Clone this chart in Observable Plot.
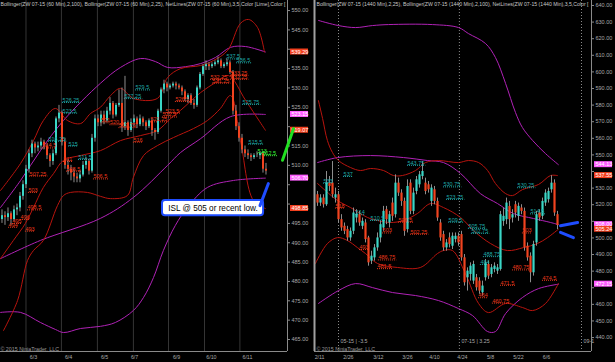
<!DOCTYPE html>
<html><head><meta charset="utf-8">
<script src="https://cdn.jsdelivr.net/npm/d3@7"></script>
<script src="https://cdn.jsdelivr.net/npm/@observablehq/plot@0.6"></script>
<style>
html,body{margin:0;padding:0;background:#000;overflow:hidden}
#wrap{display:flex;width:615px;height:362px;overflow:hidden;background:#000}
#wrap svg{display:block;overflow:visible}
</style></head><body><div id="wrap"></div>
<script>
// ---------------- LEFT PANEL (60 min) ----------------
const leftTitle = "Bollinger(ZW 07-15 (60 Min),2,100), Bollinger(ZW 07-15 (60 Min),2,25), NetLines(ZW 07-15 (60 Min),3,5,Color [Lime],Color [";
const leftOpen = [496,497,496.5,497.5,496,498.5,499,502,505,509, 513,515.5,514.5,515,516,515,512.5,511,513,522, 523.5,516,510,509,508,507,506.5,507.5,510,511, 508.5,517,522,521,523,521.5,524,526,523,525.5, 526,520,521,519,521,522,520.5,522,521,520, 521.5,519,518.5,524,529.5,531,530,530.5,531,530.5, 530,529,527,528,526,525.5,530,533.5,535.5,536, 535.5,536,536.5,537,535.5,536,536.5,534,524,520, 517,514,513,512.5,512,512.5,512.5,513,509];
const leftHigh = [498.5,498,499,498,499.5,500,503,506,510,514, 516.5,516,516,517,516.5,515.5,513,514,522.5,525.5, 524,517,511.5,510,509,508,508.5,511,512,511.5, 518,523,523,524,524,525,527.5,526.5,526,529.5, 530,533,521.5,522,523,522.5,523,522.5,521.5,522, 522,519.5,524.5,530,532,531.5,531,531.5,531.5,531, 530.5,529.5,528.5,528.5,527,530.5,534,536,537,536.5, 536.5,537,538,537.5,536.5,537.5,537,534.5,525.5,521, 518,515,514,513,513,513.5,513.5,513.5,510.5];
const leftLow = [495,494.5,495.5,494.5,495.5,497,498,501,504,508, 512,513,513.5,514,514,511.5,509.5,510,512.5,521, 515,509,507.5,506,505.5,505.5,505.5,507,509,507.5, 508,516,520,520,520.5,521,523,522,522.5,525, 518.5,519,517.5,518.5,520,519.5,520,520,519,519.5, 517.5,516.5,518,523.5,528.5,529,529.5,530,529.5,529.5, 528,526.5,526,525.5,524.5,525,529.5,533,534.5,534.5, 535,535.5,536,535,535,535.5,533.5,523,519,516, 513,512,511.5,511,511.5,512,511.5,508,507.5];
const leftClose = [497,496.5,497.5,496,498.5,499,502,505,509,513, 515.5,514.5,515,516,515,512.5,511,513,522,523.5, 516,510,509,508,507,506.5,507.5,510,511,508.5, 517,522,521,523,521.5,524,526,523,525.5,526, 520,521,519,521,522,520.5,522,521,520,521.5, 519,518.5,524,529.5,531,530,530.5,531,530.5,530, 529,527,528,526,525.5,530,533.5,535.5,536,535.5, 536,536.5,537,535.5,536,536.5,534,524,520,517, 514,513,512.5,512,512.5,512.5,513,509,508.5];
// Bollinger (100) magenta, Bollinger (25) dark red : [bar index, price]
const leftMagUpper = [[-0.5,499.1],[6.2,506.1],[12.8,513.8],[20.5,521.6],[32.8,531.2],[39.5,535.3],[46.2,537.6],[51.2,536.8],[55.2,535.3],[61.2,535.5],[66.2,536.3],[71.2,537.9],[76.2,540.5],[81.2,540.7],[87.8,539.3]];
const leftMagMid = [[-0.5,485.9],[12.8,490.6],[32.8,496.3],[43.8,501.7],[55.2,510.0],[59.5,513.3],[66.2,516.9],[76.2,522.6],[87.8,523.15]];
const leftMagLower = [[-0.5,472.0],[6.2,472.0],[12.8,469.4],[17.8,467.6],[20.5,466.8],[26.2,467.85],[32.8,468.4],[37.8,469.4],[43.8,472.5],[47.2,475.9],[50.5,481.0],[53.8,488.0],[57.8,494.5],[61.8,499.1],[68.5,504.3],[77.2,506.1],[87.8,506.7]];
const leftRedUpper = [[-0.5,503.5],[6.2,510.5],[10.5,516.4],[13.8,521.6],[17.8,524.7],[21.8,521.6],[26.2,520.8],[29.5,523.4],[32.8,525.0],[36.2,528.05],[39.5,529.9],[43.8,527.3],[51.8,527.3],[55.2,532.7],[59.5,535.0],[66.2,535.8],[70.5,537.1],[75.2,539.7],[79.5,546.7],[82.2,547.7],[85.2,545.6],[87.5,539.29]];
const leftRedMid = [[-0.5,485.9],[3.8,490.6],[7.8,495.0],[10.5,499.1],[13.8,504.3],[17.2,507.9],[20.5,511.3],[26.2,512.55],[32.8,513.8],[39.5,516.4],[46.2,517.7],[51.8,519.0],[56.2,522.1],[59.5,524.2],[66.2,528.8],[71.2,531.4],[75.5,533.2],[81.2,526.8],[87.8,519.07]];
const leftRedLower = [[0.5,467.3],[5.2,475.1],[8.5,485.4],[10.5,488.0],[13.8,490.6],[18.5,499.6],[20.5,502.2],[22.8,503.0],[28.5,503.0],[32.8,502.0],[36.2,501.4],[41.8,502.2],[43.8,506.9],[47.2,512.55],[51.8,515.1],[57.2,517.2],[63.8,519.5],[68.5,521.6],[72.8,524.7],[76.2,528.05],[79.5,516.4],[83.8,500.9],[87.8,498.85]];
// NetLines labels: [bar index, price]
const leftCyanLabels = [[20.2,526.25],[20.2,523.5],[40.8,527.25],[44.5,529.5],[74.8,537.5],[78.2,536.5],[80.2,525.75],[82.2,515.5],[15.5,516.25],[22.2,515],[25.5,511.5]];
const leftGreenLabels = [[85.2,513],[86.8,512.5]];
const leftRedLabels = [[9.2,507.25],[8.8,503],[8.5,498.5],[6.2,496],[3.5,495],[2.2,494],[7.8,493],[20.5,511],[21.5,508.5],[30.5,506.5],[43.8,516],[57.8,526.5],[76.2,533.25],[69.5,532.25],[76.2,532.25],[70.2,531.25],[33,521],[36,520.5],[39,519.75],[49.5,521.25],[53.5,522.5],[54.5,523.5],[13.5,514.5]];
const leftAxisBoxes = [[539.29,"red"],[523.15,"mag"],[519.07,"red"],[506.70,"mag"],[498.85,"red"]];
const leftYTicks = [550,545,540,535,530,525,520,515,510,505,500,495,490,485,480,475,470,465];
const leftDayLines = [8,19.8,31.8,43.8,55.5,67.5,79.3];
const leftDateLabels = ["6/3","6/4","6/5","6/7","6/9","6/10","6/11"];
const leftDatePos = [10.5,22.2,34.2,44.2,58.2,69.8,81.8];
const leftNote = "ISL @ 505 or recent low.";
const leftNoteBox = {i1:53.5, i2:87.2, v1:500.9, v2:497.0};
const leftArrows = [{x1:93.5,y1:511.3,x2:97.2,y2:519.5,c:"green"},{x1:86,y1:499.6,x2:88.8,y2:505.3,c:"blue"}];

// ---------------- RIGHT PANEL (1440 min) ----------------
const rightTitle = "Bollinger(ZW 07-15 (1440 Min),2,25), Bollinger(ZW 07-15 (1440 Min),2,100), NetLines(ZW 07-15 (1440 Min),3,5,Color [";
const rightOpen = [526,521,524,520,533,533,524,526,511,507, 505,500,504,512,514,507,509,500,486,488, 494,500,506,517,509,521,514,533,527,522, 505,533,516,528,532,537,533,532,522,529, 522,509,502,494,500,495,499,501,502,488, 476,478,474,476,474,467,476,484,478,481, 480,481,510,511,519,512,520,513,518,516, 495,489,479,497,515,513,521,523,529,533,514];
const rightHigh = [528,526,526,540,537,546,530,528,514,509, 507,506,518,517,516,512,511,501,492,496, 503,510,519,519,516,524,538,536,529,524, 535,535,530,537,540,546,536,534,532,531, 524,511,504,499,503,503,503,503,504,490, 482,485,486,478,476,474,487,486,484,485, 484,516,518,524,522,517,522,521,520,518, 497,491,498,516,517,524,529,530,537.5,535,516];
const rightLow = [519,519,518,519,528,524,521,509,504,502, 498,498,502,509,507,505,497,483,484,486, 492,497,504,508,506,510,512,525,519,501, 503,514,514,526,530,535,526,527,519,520, 510,498,492,492,494,493,497,495,486,471, 468,474,472,468,466,465,474,475,476,479, 478,480,507,508,505,509,512,510,514,492, 486,473,477,495,510,511,519,521,527,513,505];
const rightClose = [521,524,520,533,531,526,526,511,506,504, 500,504,515,514,509,510,499,485,489,494, 500,508,516,511,514,513,533,527,522,504, 531,516,527,535,538,540,528,529,530,522, 512,500,494,497,496,501,501,497,488,473, 480,483,484,470,468,471,485,477,482,483, 482,514,513,521,511,514,515,519,516,494, 488,479,496,514,512,522,527,528,533,515,507.5];
const rightMagUpper = [[0.3,631.0],[7,627.9],[12.7,626.7],[18.3,627.9],[23.7,628.5],[38.3,628.5],[47,626.7],[50.3,623.1],[56,617.1],[59.3,608.7],[62.7,593.0],[66,575.5],[68.3,566.5],[71.7,558.7],[76,550.8],[80.3,544.13]];
const rightMagMid = [[0,545.4],[6.7,548.4],[17.7,549.6],[28.7,548.4],[36.7,546.6],[42,545.4],[47.7,538.8],[54.3,526.7],[60,520.7],[65.3,514.7],[72,511.7],[77.7,509.3],[80.3,508.0]];
const rightMagLower = [[0.3,460.5],[7,468.3],[12.7,472.5],[18.3,470.1],[25,467.1],[32.7,465.3],[40.3,462.3],[47,457.45],[51.7,453.2],[56.7,443.6],[59.3,443.6],[62.7,454.45],[68.3,464.1],[73.7,469.5],[80.3,472.15]];
const rightRedUpper = [[0.3,582.8],[1.7,571.9],[3.3,558.7],[5,551.4],[7,546.6],[11,542.4],[14.3,540.6],[17.7,541.8],[22,540.6],[25.3,537.6],[28.3,537.6],[32.7,540.6],[36,545.4],[40.3,546.6],[47,545.4],[50.3,546.6],[53.7,545.4],[56.7,540.6],[59.3,532.8],[62.7,526.7],[65,525.5],[68.3,529.1],[73.7,532.2],[77.7,537.6],[80,537.55]];
const rightRedMid = [[0,532.8],[6.7,522.5],[11,518.3],[16.7,512.3],[20,510.5],[24.3,509.3],[28.7,510.5],[33.3,514.7],[37.7,520.7],[42,518.3],[47.7,512.3],[52,504.45],[57.7,496.6],[63.3,492.4],[68.7,494.2],[73.3,496.6],[76.7,500.2],[80.3,505.24]];
const rightRedLower = [[-0.7,484.6],[3.3,496.6],[6.7,500.2],[10,498.4],[13.3,494.2],[16,490.6],[20,484.6],[26.7,482.2],[34.3,482.2],[40,490.6],[42,492.4],[45,492.4],[49.3,478.55],[53.7,460.5],[57,455.05],[62.7,460.5],[68.3,458.1],[71.7,456.25],[76,460.5],[80.3,472.5]];
const rightCyanLabels = [[8.7,537],[30,543.75],[2,533],[12.7,514],[17.7,510.5],[42,530.75],[43,523.25],[43.7,509.5],[50.3,505.75],[51.3,502.75],[66.7,530.25],[71,514.5],[55.3,488.75],[54.3,484]];
const rightGreenLabels = [];
const rightRedLabels = [[6,518],[14,493],[20.3,486.75],[20,481.5],[27,509.5],[21.7,503],[31,502.25],[68.3,503],[65,480.75],[61,471.5],[58.3,460.75],[53.7,464],[75,474.5]];
const rightAxisBoxes = [[544.13,"mag"],[537.55,"red"],[508.00,"mag"],[505.24,"red"],[472.15,"mag"]];
const rightYTicks = [640,630,620,610,600,590,580,570,560,550,540,530,520,510,500,490,480,470,460,450,440];
const rightRollPos = [7,47.3,88];
const rightRollLabels = ["05-15 | -3.5","07-15 | 3.25","09-1"];
const rightDateLabels = ["2/11","2/26","3/12","3/26","4/10","4/24","5/8","5/22","6/6"];
const rightDatePos = [0.7,10.3,20.3,30,39,48.3,57.7,67,76.3];
const rightArrows = [{x1:86.7,y1:509.3,x2:81,y2:507.3,c:"blue",bend:-25},{x1:85.3,y1:500.2,x2:81,y2:503.4,c:"blue",bend:20}];

// ---------------- drawing ----------------
const COL = {up:"#3ad6c6", down:"#f2431f", wick:"#8d8d8d", mag:"#b022b6", red:"#b8140e",
  cyan:"#1fa9a7", lred:"#e9381b", green:"#3cff3c", boxRed:"#f2401e", boxMag:"#ff5cff",
  axis:"#a9a9a9", grid:"#353535", blue:"#1f4dff", arrowGreen:"#21e021"};
const FONT = "'Liberation Sans', Arial, sans-serif";
const PLOT_H = 351; // plot frame height in px (362 - bottom margin)

function panel(p) {
  const bars = p.close.map((c, i) => ({i, o: p.open[i], h: p.high[i], l: p.low[i], c}));
  const [x0, x1] = p.xDomain, [y0, y1] = p.yDomain;
  const pxPerUnit = PLOT_H / (y1 - y0);
  // tick labels covered by a price box on the axis are hidden (as in the platform)
  const covered = new Set(p.yTicks.filter(t => p.boxes.some(([v]) => Math.abs(v - t) * pxPerUnit < 7)));
  const line = (arr, stroke) => Plot.line(arr, {x: d => d[0], y: d => d[1], stroke, strokeWidth: 1, curve: "catmull-rom"});
  const lab = (arr, fill) => arr.map(([i, v]) => ({i, v, t: String(v), fill}));
  const labels = [...lab(p.red, COL.lred), ...lab(p.cyan, COL.cyan), ...lab(p.green, COL.green)];
  const boxes = p.boxes.map(([v, k]) => ({v, t: v.toFixed(2), fill: k === "red" ? COL.boxRed : COL.boxMag}));
  const marks = [];
  if (p.dayLines) marks.push(Plot.ruleX(p.dayLines, {stroke: COL.grid, strokeWidth: 1}));
  if (p.rolls) {
    marks.push(Plot.ruleX(p.rolls, {stroke: "#8a8a8a", strokeDasharray: "1,2"}));
    marks.push(Plot.text(p.rolls, {x: d => d, text: (d, k) => p.rollLabels[k], frameAnchor: "bottom", dy: -9, dx: 2, textAnchor: "start", fill: COL.axis, fontSize: 5.3}));
  }
  marks.push(
    line(p.magUpper, COL.mag), line(p.magMid, COL.mag), line(p.magLower, COL.mag),
    line(p.redUpper, COL.red), line(p.redMid, COL.red), line(p.redLower, COL.red),
    Plot.ruleY(labels, {y: "v", x1: "i", x2: d => d.i + d.t.length * 1.02, stroke: "fill", strokeDasharray: "1,1", strokeWidth: 1}),
    Plot.ruleX(bars, {x: "i", y1: "l", y2: "h", stroke: COL.wick, strokeWidth: 1}),
    Plot.ruleX(bars, {x: "i", y1: "o", y2: "c", stroke: d => d.c >= d.o ? COL.up : COL.down, strokeWidth: p.bodyWidth}),
    Plot.text(labels, {x: "i", y: "v", text: "t", fill: "fill", textAnchor: "start", lineAnchor: "bottom", dy: -0.5, fontSize: 5.5}),
    Plot.ruleY([y0], {stroke: "#8a8a8a"}),
    Plot.ruleX([x1], {stroke: "#8a8a8a"}),
    Plot.ruleY(p.yTicks, {y: d => d, x1: () => x1, x2: () => x1, insetRight: -3, stroke: "#8a8a8a"}),
    Plot.text(p.yTicks.filter(t => !covered.has(t)), {y: d => d, text: d => d.toFixed(2), frameAnchor: "right", dx: 4, textAnchor: "start", fill: COL.axis, fontSize: 5.5}),
    Plot.rect(boxes, {x1: () => x1, x2: () => x1, y1: "v", y2: "v", fill: "fill", insetLeft: 3, insetRight: -21, insetTop: -3, insetBottom: -3}),
    Plot.text(boxes, {x: () => x1, y: "v", text: "t", fill: "#fff", textAnchor: "start", dx: 4, fontSize: 5.5}),
    Plot.text([p.title], {text: d => d, frameAnchor: "top-left", dx: p.titleDx, dy: 2, lineAnchor: "top", textAnchor: "start", fill: "#c8c8c8", fontSize: 5.3}),
    Plot.text(["\u00a9 2015 NinjaTrader, LLC"], {text: d => d, frameAnchor: "bottom-left", dx: p.titleDx, dy: -1, lineAnchor: "bottom", textAnchor: "start", fill: "#9a9a9a", fontSize: 5.3}),
    Plot.text(p.datePos, {x: d => d, text: (d, k) => p.dateLabels[k], frameAnchor: "bottom", dy: 7, fill: COL.axis, fontSize: 5.3})
  );
  if (p.leftBorder) marks.push(Plot.ruleX([x0], {stroke: "#a0a0a0", strokeWidth: 2}));
  if (p.note) {
    marks.push(
      Plot.rect([p.noteBox], {x1: "i1", x2: "i2", y1: "v1", y2: "v2", fill: "#fff", stroke: COL.blue, strokeWidth: 2, rx: 3}),
      Plot.text([p.note], {x: () => (p.noteBox.i1 + p.noteBox.i2) / 2, y: () => (p.noteBox.v1 + p.noteBox.v2) / 2, text: d => d, fill: "#000", fontSize: 8.2, fontFamily: FONT})
    );
  }
  marks.push(Plot.arrow(p.arrows, {x1: "x1", y1: "y1", x2: "x2", y2: "y2", stroke: d => d.c === "green" ? COL.arrowGreen : COL.blue, strokeWidth: 3, headLength: 7, bend: d => d.bend || 0}));
  const svg = Plot.plot({
    width: p.width, height: 362,
    marginLeft: p.marginLeft, marginRight: p.marginRight, marginTop: 0, marginBottom: 11,
    x: {domain: p.xDomain, axis: null},
    y: {domain: p.yDomain, axis: null},
    style: {background: "#000", color: COL.axis, fontSize: "5.5px", fontFamily: FONT, overflow: "visible"},
    marks
  });
  // fit the indicator title into the visible chart width
  svg.querySelectorAll("text").forEach(t => {
    if (t.textContent === p.title) {
      t.setAttribute("textLength", p.titleWidth);
      t.setAttribute("lengthAdjust", "spacingAndGlyphs");
    }
  });
  return svg;
}

const wrap = document.getElementById("wrap");
wrap.appendChild(panel({
  width: 310, marginLeft: 0, marginRight: 23, xDomain: [-0.5, 95.17], yDomain: [461.9, 552.6],
  open: leftOpen, high: leftHigh, low: leftLow, close: leftClose, bodyWidth: 2,
  magUpper: leftMagUpper, magMid: leftMagMid, magLower: leftMagLower,
  redUpper: leftRedUpper, redMid: leftRedMid, redLower: leftRedLower,
  cyan: leftCyanLabels, green: leftGreenLabels, red: leftRedLabels, boxes: leftAxisBoxes,
  yTicks: leftYTicks, dayLines: leftDayLines, dateLabels: leftDateLabels, datePos: leftDatePos,
  title: leftTitle, titleDx: 0, titleWidth: 285, note: leftNote, noteBox: leftNoteBox, arrows: leftArrows
}));
wrap.appendChild(panel({
  width: 305, marginLeft: 4, marginRight: 24, xDomain: [-1, 91.33], yDomain: [431.6, 643],
  open: rightOpen, high: rightHigh, low: rightLow, close: rightClose, bodyWidth: 2.2,
  magUpper: rightMagUpper, magMid: rightMagMid, magLower: rightMagLower,
  redUpper: rightRedUpper, redMid: rightRedMid, redLower: rightRedLower,
  cyan: rightCyanLabels, green: rightGreenLabels, red: rightRedLabels, boxes: rightAxisBoxes,
  yTicks: rightYTicks, rolls: rightRollPos, rollLabels: rightRollLabels,
  dateLabels: rightDateLabels, datePos: rightDatePos, leftBorder: true,
  title: rightTitle, titleDx: 2, titleWidth: 272, arrows: rightArrows
}));
</script></body></html>
